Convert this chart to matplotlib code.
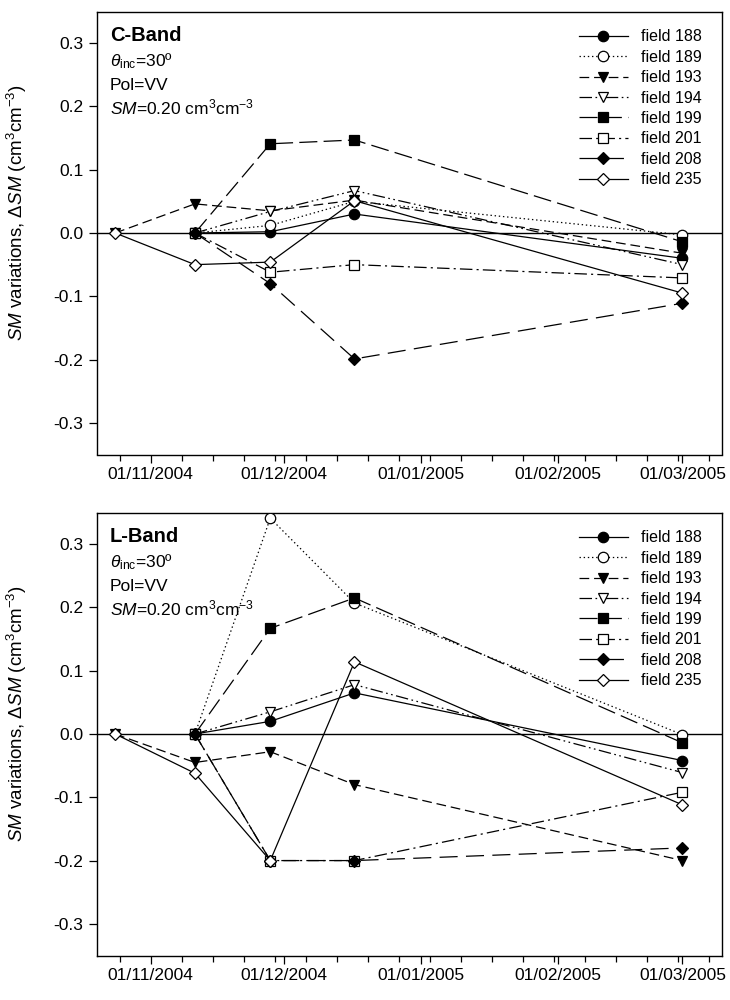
import numpy as np
import matplotlib
matplotlib.use("Agg")
import matplotlib.pyplot as plt
import matplotlib.dates as mdates
from datetime import datetime

plt.rcParams['font.family'] = ['Liberation Sans', 'DejaVu Sans']
plt.rcParams['mathtext.fontset'] = 'custom'
plt.rcParams['mathtext.rm'] = 'Liberation Sans'
plt.rcParams['mathtext.it'] = 'Liberation Sans:italic'
plt.rcParams['mathtext.bf'] = 'Liberation Sans:bold'
plt.rcParams['lines.scale_dashes'] = False

# acquisition dates
dates = [datetime(2004, 10, 24), datetime(2004, 11, 11), datetime(2004, 11, 28),
         datetime(2004, 12, 17), datetime(2005, 3, 1)]
nan = np.nan

fields = ['field 188', 'field 189', 'field 193', 'field 194',
          'field 199', 'field 201', 'field 208', 'field 235']

# C-Band delta SM
c_188 = [nan, 0.0, 0.002, 0.030, -0.040]
c_189 = [nan, 0.0, 0.012, 0.050, -0.003]
c_193 = [0.0, 0.046, 0.035, 0.052, -0.032]
c_194 = [nan, 0.0, 0.034, 0.067, -0.050]
c_199 = [nan, 0.0, 0.141, 0.147, -0.014]
c_201 = [nan, 0.0, -0.062, -0.050, -0.071]
c_208 = [nan, 0.0, -0.080, -0.199, -0.111]
c_235 = [0.0, -0.050, -0.046, 0.051, -0.095]

# L-Band delta SM
l_188 = [nan, 0.0, 0.020, 0.065, -0.042]
l_189 = [nan, 0.0, 0.341, 0.207, -0.001]
l_193 = [0.0, -0.045, -0.028, -0.080, -0.200]
l_194 = [nan, 0.0, 0.035, 0.078, -0.061]
l_199 = [nan, 0.0, 0.167, 0.215, -0.014]
l_201 = [nan, 0.0, -0.200, -0.200, -0.092]
l_208 = [nan, 0.0, -0.200, -0.200, -0.180]
l_235 = [0.0, -0.062, -0.200, 0.114, -0.112]

c_band = [c_188, c_189, c_193, c_194, c_199, c_201, c_208, c_235]
l_band = [l_188, l_189, l_193, l_194, l_199, l_201, l_208, l_235]

markers = ['o', 'o', 'v', 'v', 's', 's', 'D', 'D']
facecol = ['black', 'white', 'black', 'white', 'black', 'white', 'black', 'white']
msizes = [7.5, 7.5, 7.5, 7.5, 7, 7, 6.5, 6.5]
styles = ['-', (0, (1, 2)), (0, (7, 3.5)), (0, (9, 2.5, 1.2, 2.5, 1.2, 2.5)),
          (0, (13, 4.5)), (0, (9, 3, 1.5, 3)), (0, (13, 6)), '-']

yticks = [-0.3, -0.2, -0.1, 0.0, 0.1, 0.2, 0.3]

fig = plt.figure(figsize=(7.3, 10), dpi=100)
ax1 = fig.add_axes([0.1335, 0.5455, 0.856, 0.443])
ax2 = fig.add_axes([0.1335, 0.0445, 0.856, 0.443])


def draw(ax, data, band):
    ax.axhline(0, color='black', lw=1.0, zorder=1)
    for i in range(len(fields)):
        ax.plot(dates, data[i], color='black', lw=0.9, linestyle=styles[i],
                marker=markers[i], markersize=msizes[i], markerfacecolor=facecol[i],
                markeredgecolor='black', markeredgewidth=0.9, label=fields[i], zorder=2 + i)
    ax.set_ylim(-0.35, 0.35)
    ax.set_xlim(datetime(2004, 10, 20), datetime(2005, 3, 10))
    ax.set_yticks(yticks)
    ax.set_yticklabels(['%.1f' % v for v in yticks])
    ax.xaxis.set_major_locator(mdates.MonthLocator())
    ax.xaxis.set_minor_locator(mdates.WeekdayLocator(byweekday=mdates.MO))
    ax.xaxis.set_major_formatter(mdates.DateFormatter('%d/%m/%Y'))
    ax.tick_params(axis='both', which='major', direction='out', length=5.5, width=0.9,
                   labelsize=12.5)
    ax.tick_params(axis='y', which='major', pad=4.5)
    ax.tick_params(axis='x', which='major', pad=3.5)
    ax.tick_params(axis='x', which='minor', direction='out', length=4.5, width=0.9)
    for s in ax.spines.values():
        s.set_linewidth(1.0)
    ax.text(0.02, 0.933, band, transform=ax.transAxes, fontsize=14.5,
            fontweight='bold', va='baseline')
    ax.text(0.02, 0.877, r'$\theta_{\rm inc}$=30º', transform=ax.transAxes,
            fontsize=12.5, va='baseline')
    ax.text(0.02, 0.822, 'Pol=VV', transform=ax.transAxes, fontsize=12.5, va='baseline')
    ax.text(0.02, 0.768, r'$\it{SM}$=0.20 cm$^{3}$cm$^{-3}$', transform=ax.transAxes,
            fontsize=12.5, va='baseline')
    ax.legend(loc='upper right', bbox_to_anchor=(0.985, 0.985), frameon=False,
              fontsize=11.5, numpoints=1, handlelength=3.1, handletextpad=0.8,
              labelspacing=0.34, borderaxespad=0.3)
    ax.set_ylabel(r'$\it{SM}$ variations, $\Delta\it{SM}$ (cm$^{3}$cm$^{-3}$)', fontsize=13.5)
    ax.yaxis.set_label_coords(-0.11, 0.545)


draw(ax1, c_band, 'C-Band')
draw(ax2, l_band, 'L-Band')

fig.savefig('out.png', dpi=100)
